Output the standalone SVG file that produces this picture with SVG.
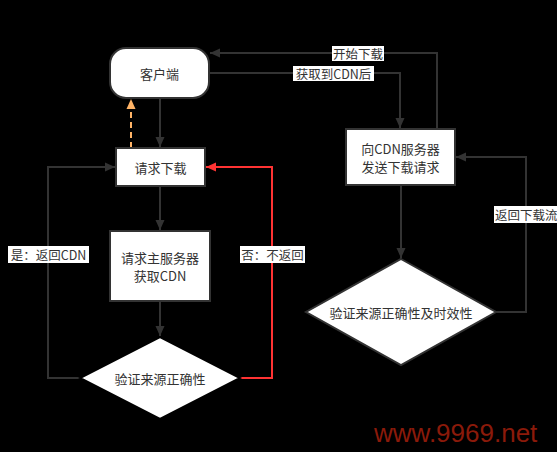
<svg xmlns="http://www.w3.org/2000/svg" width="557" height="452" viewBox="0 0 557 452">
<defs>
<style>
.node{fill:#fff;stroke:#333;stroke-width:2}
.t{font-family:"Noto Sans CJK SC","Liberation Sans",sans-serif;font-size:13px;fill:#333;text-anchor:middle;dominant-baseline:central}
.e{fill:none;stroke:#333;stroke-width:2}
.lb{fill:#fff}
</style>
<marker id="ah" viewBox="0 0 10 10" refX="10" refY="5" markerWidth="10" markerHeight="10" markerUnits="userSpaceOnUse" orient="auto"><path d="M0,0.5 L10,5 L0,9.5 Z" fill="#333"/></marker>
<marker id="ar" viewBox="0 0 10 10" refX="10" refY="5" markerWidth="10" markerHeight="10" markerUnits="userSpaceOnUse" orient="auto"><path d="M0,0.5 L10,5 L0,9.5 Z" fill="#ff3333"/></marker>
<marker id="ao" viewBox="0 0 10 10" refX="10" refY="5" markerWidth="10" markerHeight="10" markerUnits="userSpaceOnUse" orient="auto"><path d="M0,0.5 L10,5 L0,9.5 Z" fill="#ffb366"/></marker>
</defs>
<rect x="0" y="0" width="557" height="452" fill="#000"/>
<g id="edges">
<path class="e" d="M160,98 L160,147" marker-end="url(#ah)"/>
<path d="M131,148 L131,99" fill="none" stroke="#ffb366" stroke-width="2" stroke-dasharray="6 4" marker-end="url(#ao)"/>
<path class="e" d="M160,186 L160,230" marker-end="url(#ah)"/>
<path class="e" d="M160,301 L160,336" marker-end="url(#ah)"/>
<path class="e" d="M80,378 L48,378 L48,167 L115,167" marker-end="url(#ah)"/>
<path d="M240,378 L272,378 L272,167 L206,167" fill="none" stroke="#ff3333" stroke-width="2" marker-end="url(#ar)"/>
<path class="e" d="M210,73 L400,73 L400,128" marker-end="url(#ah)"/>
<path class="e" d="M437,129 L437,53 L210,53" marker-end="url(#ah)"/>
<path class="e" d="M401,185 L401,258" marker-end="url(#ah)"/>
<path class="e" d="M496,312 L526,312 L526,157 L456,157" marker-end="url(#ah)"/>
<rect class="lb" x="8" y="246" width="81" height="17"/>
<text class="t" x="48.5" y="254.5" style="font-size:12.5px">是：返回CDN</text>
<rect class="lb" x="240" y="246" width="65" height="17"/>
<text class="t" x="272.5" y="254.5" style="font-size:12.5px">否：不返回</text>
<rect class="lb" x="293" y="66" width="81" height="15"/>
<text class="t" x="333.5" y="73.5" style="font-size:12.5px">获取到CDN后</text>
<rect class="lb" x="332" y="46" width="52" height="15"/>
<text class="t" x="358" y="53" style="font-size:12.5px">开始下载</text>
<rect class="lb" x="494" y="206" width="70" height="17"/>
<text class="t" x="495" y="214.5" style="text-anchor:start;font-size:12.5px">返回下载流程</text>
</g>
<g id="client">
<rect class="node" x="110" y="48" width="99" height="50" rx="16" ry="16"/>
<text class="t" x="159.5" y="73">客户端</text>
</g>
<g id="req">
<rect class="node" x="116" y="148" width="89" height="38"/>
<text class="t" x="160.5" y="167">请求下载</text>
</g>
<g id="main">
<rect class="node" x="110" y="231" width="100" height="70"/>
<text class="t" x="160" y="257.5">请求主服务器</text>
<text class="t" x="160" y="275">获取CDN</text>
</g>
<g id="verify1">
<path class="node" d="M160,337 L240,378 L160,419 L80,378 Z" style="stroke:#000"/>
<text class="t" x="160" y="378">验证来源正确性</text>
</g>
<g id="cdn">
<rect class="node" x="346" y="129" width="109" height="56"/>
<text class="t" x="400.5" y="148.5">向CDN服务器</text>
<text class="t" x="400.5" y="166">发送下载请求</text>
</g>
<g id="verify2">
<path class="node" d="M401,259 L496,312 L401,365 L306,312 Z"/>
<text class="t" x="401" y="312">验证来源正确性及时效性</text>
</g>
<text x="374" y="442" font-family="Liberation Sans, Arial, sans-serif" font-size="26" fill="#8b1a0a">www.9969.net</text>
</svg>
